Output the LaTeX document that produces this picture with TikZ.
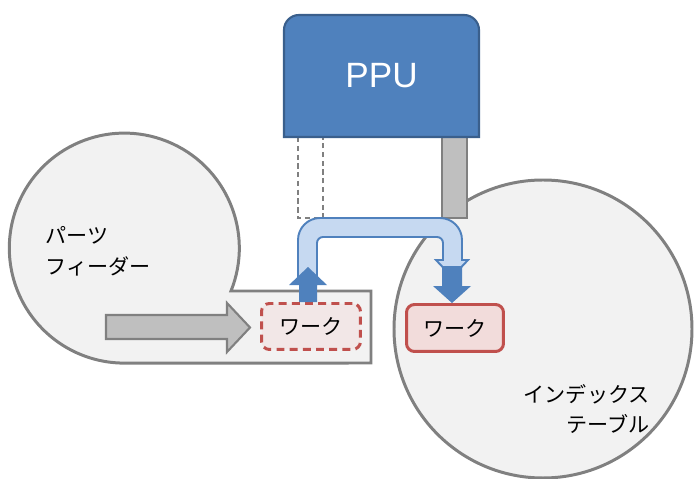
\documentclass[tikz,border=0pt]{standalone}
\usepackage{fontspec}
\setmainfont{Liberation Sans}
\newfontfamily\jpfont{Noto Sans CJK JP}
\usetikzlibrary{calc}
\definecolor{ppublue}{HTML}{4F81BD}
\definecolor{ppuedge}{HTML}{3A5F8C}
\definecolor{pipeblue}{HTML}{C6D9F1}
\definecolor{basegray}{HTML}{F2F2F2}
\definecolor{edgegray}{HTML}{808080}
\definecolor{postgray}{HTML}{BFBFBF}
\definecolor{workred}{HTML}{C0504D}
\definecolor{workpink}{HTML}{F2DCDB}
\definecolor{workpale}{HTML}{F2E7E7}
\begin{document}
\begin{tikzpicture}[x=0.02cm,y=-0.02cm,font=\jpfont\fontsize{12pt}{17.5pt}\selectfont,
    machine/.style={fill=basegray,draw=edgegray,line width=1.7pt},
    work/.style={draw=workred,fill=workpink,line width=1.7pt,rounded corners=0.16cm,inner sep=0pt},
    pipe/.style={fill=pipeblue,draw=ppublue,line width=1.1pt},
    push/.style={fill=ppublue,draw=none}]
    \useasboundingbox (0,0) rectangle (694,479);
    % parts feeder and index table
    \draw[machine] (371,291)--(231,291) arc[start angle=21.9,end angle=-270,radius=115]--(371,363)--cycle;
    \draw[machine] (543,329) circle[radius=149];
    \node[anchor=west,align=left,inner sep=0pt] (feeder) at (45,251) {パーツ\\フィーダー};
    \node[anchor=east,align=right,inner sep=0pt] (table) at (650,409) {インデックス\\テーブル};
    % PPU head and its posts
    \draw[fill=postgray,draw=edgegray,line width=1.4pt] (442,137) rectangle (467,218);
    \draw[draw=edgegray,dashed,line width=1.1pt,dash pattern=on 3pt off 2pt] (298,137) rectangle (323,218);
    \draw[fill=ppublue,draw=ppuedge,line width=1.2pt] (284,137)--(284,30) arc[start angle=180,end angle=270,radius=15]
        --(464,15) arc[start angle=270,end angle=360,radius=15]--(479,137)--cycle;
    \node[text=white,font=\fontsize{20pt}{24pt}\selectfont] (ppu) at (381.5,76) {PPU};
    % feed
    \draw[fill=postgray,draw=edgegray,line width=1.2pt] (106,315)--(227,315)--(227,303)--(250,327.5)--(227,352)--(227,339)--(106,339)--cycle;
    % transfer path
    \draw[pipe] (298,284)--(298,240) arc[start angle=180,end angle=270,radius=22]--(440,218)
        arc[start angle=270,end angle=360,radius=22]--(462,260)--(468,260)--(452,277)--(436,260)--(443,260)--(443,243)
        arc[start angle=0,end angle=-90,radius=6]--(323,237) arc[start angle=270,end angle=180,radius=6]--(317,284)--cycle;
    \node[work,dashed,dash pattern=on 4.5pt off 3pt,fill=workpale,minimum width=1.98cm,minimum height=0.92cm] (pick) at (311,326.5) {ワーク};
    \node[work,minimum width=1.94cm,minimum height=0.94cm] (place) at (455,328) {ワーク};
    \coordinate (up) at ($(pick.north)+(-3,0)$);
    \coordinate (down) at ($(place.north)+(-3,0)$);
    \fill[push] (up)++(-9,0)--++(0,-17)--++(-10,0)--++(19,-18)--++(19,18)--++(-10,0)--++(0,17)--cycle;
    \fill[push] (down)--++(-19,-17)--++(9,0)--++(0,-20)--++(20,0)--++(0,20)--++(9,0)--cycle;
\end{tikzpicture}
\end{document}
